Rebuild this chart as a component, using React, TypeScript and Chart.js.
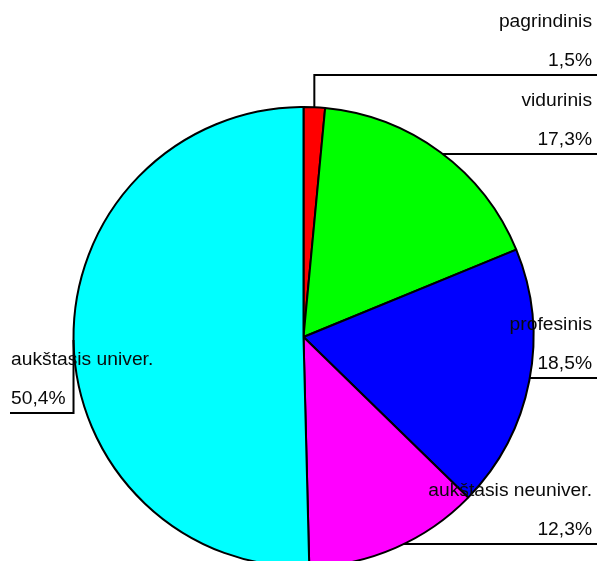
import React, { useEffect, useRef } from "react";
import { Chart, registerables } from "chart.js";

Chart.register(...registerables);

const categories = ["pagrindinis", "vidurinis", "profesinis", "aukštasis neuniver.", "aukštasis univer."];
const shares = [1.5, 17.3, 18.5, 12.3, 50.4];
const sliceColors = ["#ff0000", "#00ff00", "#0000ff", "#ff00ff", "#00ffff"];

// leader layout per slice: side of label, y of underline, leader kind
const labelSides = ["right", "right", "right", "right", "left"];
const labelLineY = [75, 154, 378, 544, 413];
const leaderKinds = ["elbow", "edge", "edge", "edge", "elbow"];

const W = 597;
const H = 561;
const CANVAS_H = 600;

const labelPlugin = {
  id: "pieLabels",
  afterDraw(chart: any) {
    const ctx = chart.ctx;
    const meta = chart.getDatasetMeta(0);
    ctx.save();
    ctx.strokeStyle = "#000";
    ctx.lineWidth = 2;
    ctx.fillStyle = "#0a0a0a";
    ctx.font = "17.5px 'Liberation Sans', Arial, sans-serif";
    const sx = 1.1;
    meta.data.forEach((arc: any, i: number) => {
      const cx = arc.x;
      const cy = arc.y;
      const r = arc.outerRadius;
      const mid = (arc.startAngle + arc.endAngle) / 2;
      const ax = cx + r * Math.cos(mid);
      const ay = cy + r * Math.sin(mid);
      const ly = labelLineY[i];
      const side = labelSides[i];
      ctx.beginPath();
      if (leaderKinds[i] === "elbow") {
        ctx.moveTo(ax, ay);
        ctx.lineTo(ax, ly);
        ctx.lineTo(side === "right" ? W : 10, ly);
      } else {
        const dy = ly - cy;
        const dx = Math.sqrt(Math.max(r * r - dy * dy, 0));
        const startX = side === "right" ? cx + dx : cx - dx;
        ctx.moveTo(startX, ly);
        ctx.lineTo(side === "right" ? W : 10, ly);
      }
      ctx.stroke();

      const pct = shares[i].toFixed(1).replace(".", ",") + "%";
      const name = categories[i];
      ctx.textBaseline = "alphabetic";
      const drawText = (t: string, y: number) => {
        ctx.save();
        if (side === "right") {
          ctx.textAlign = "right";
          ctx.translate(592, y);
        } else {
          ctx.textAlign = "left";
          ctx.translate(11, y);
        }
        ctx.scale(sx, 1);
        ctx.fillText(t, 0, 0);
        ctx.restore();
      };
      drawText(name, ly - 48);
      drawText(pct, ly - 9);
    });
    ctx.restore();
  },
};

export default function App() {
  const ref = useRef<HTMLCanvasElement | null>(null);
  useEffect(() => {
    document.body.style.margin = "0";
    if (!ref.current) return;
    const chart = new Chart(ref.current, {
      type: "pie",
      data: {
        labels: categories,
        datasets: [
          {
            data: shares,
            backgroundColor: sliceColors,
            borderColor: "#000",
            borderWidth: 2,
          },
        ],
      },
      options: {
        animation: false,
        responsive: false,
        devicePixelRatio: 1,
        radius: 230,
        layout: { padding: { left: 10, right: 0, top: 80, bottom: 6 } },
        plugins: { legend: { display: false }, tooltip: { enabled: false } },
      } as any,
      plugins: [labelPlugin],
    });
    return () => chart.destroy();
  }, []);
  return (
    <div style={{ width: W, height: H, overflow: "hidden", background: "#fff" }}>
      <canvas ref={ref} width={W} height={CANVAS_H} style={{ display: "block" }} />
    </div>
  );
}
